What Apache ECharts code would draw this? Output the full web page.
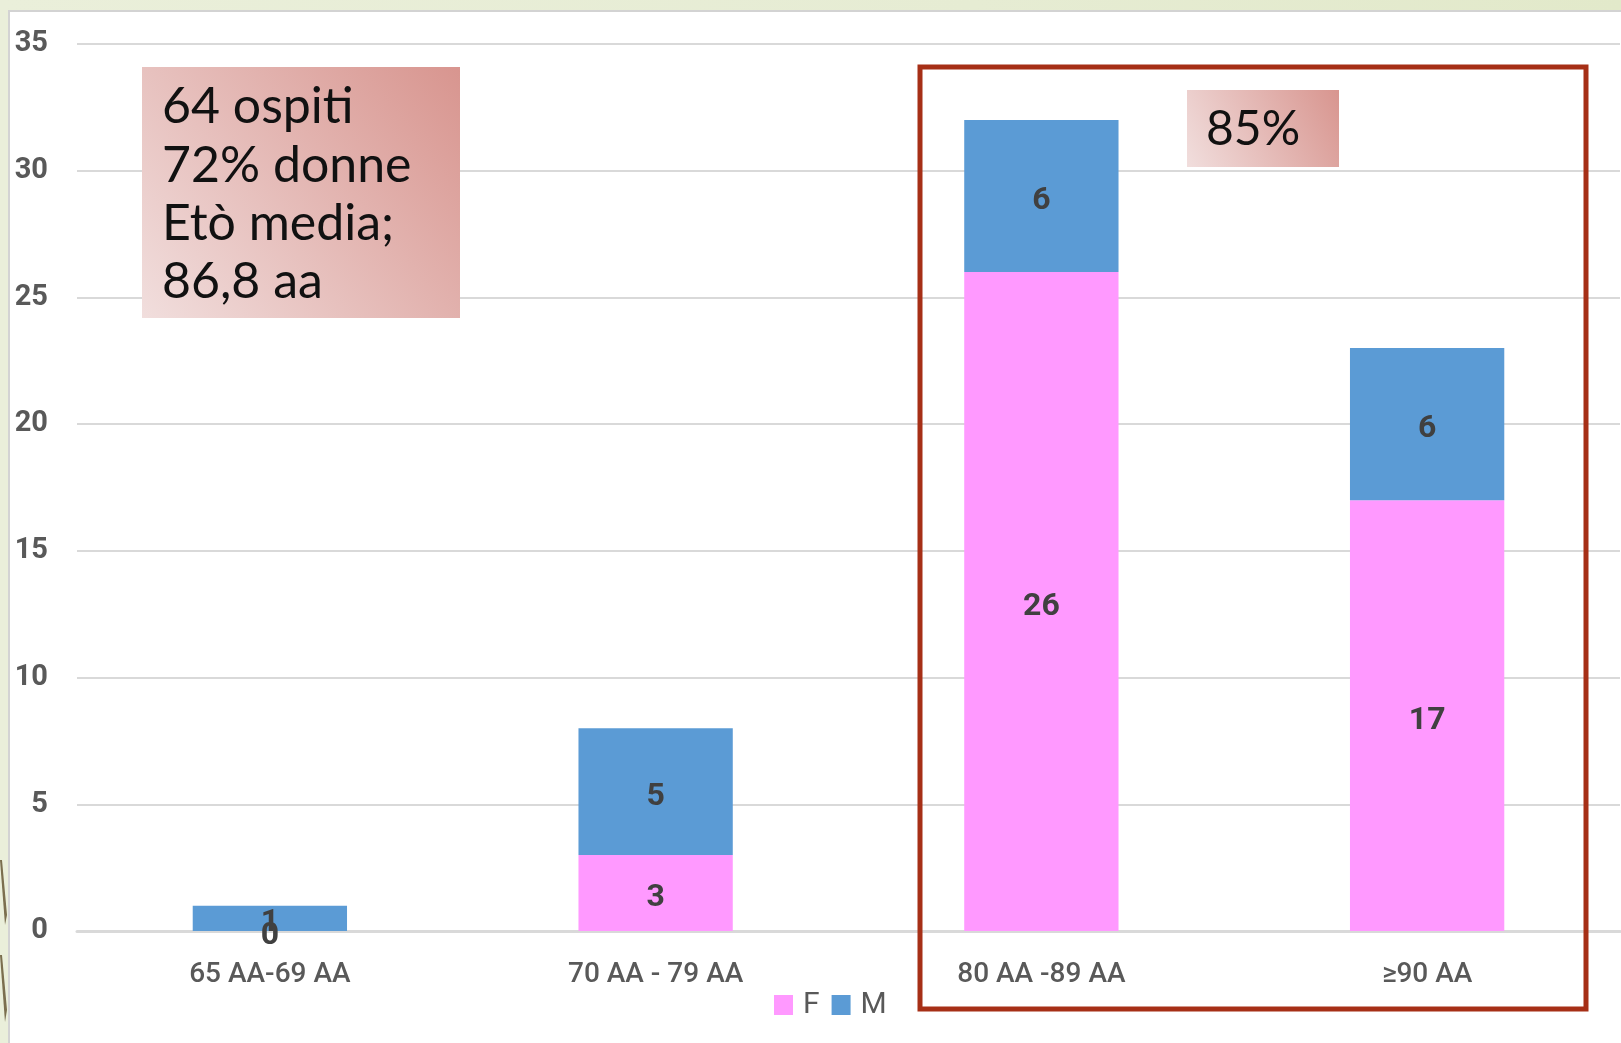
<!DOCTYPE html>
<html>
<head>
<meta charset="utf-8">
<script src="https://cdn.jsdelivr.net/npm/echarts@6/dist/echarts.min.js"></script>
<style>
  html, body { margin: 0; padding: 0; width: 1621px; height: 1043px; overflow: hidden;
    background: linear-gradient(90deg, #eaefda 0%, #e6ecd3 60%, #e2e9ca 100%); }
  #panel { position: absolute; left: 8px; top: 10px; width: 1613px; height: 1033px;
    background: #ffffff; border-left: 2px solid #d3d3d3; border-top: 2px solid #d3d3d3; box-sizing: border-box; }
  #deco { position: absolute; left: 0; top: 0; }
  #chart { position: absolute; left: 0; top: 0; width: 1621px; height: 1043px; }
</style>
</head>
<body>
<div id="panel"></div>
<svg id="deco" width="10" height="1043">
  <polygon points="0,860 2,860 7,915 5,925" fill="#7b6f4f"/>
  <polygon points="0,955 2,955 7,1010 5,1022" fill="#7b6f4f"/>
</svg>
<div id="chart"></div>
<script>
const categories = ['65 AA-69 AA', '70 AA - 79 AA', '80 AA -89 AA', '\u226590 AA'];
const valuesF = [0, 3, 26, 17];
const valuesM = [1, 5, 6, 6];
const yTicks = { min: 0, max: 35, interval: 5 };
const infoLines = ['64 ospiti', '72% donne', 'Et\u00f2 media;', '86,8 aa'];
const highlightText = '85%';

const chart = echarts.init(document.getElementById('chart'), null, { renderer: 'canvas' });

const boxGradient = new echarts.graphic.LinearGradient(0, 1, 1, 0, [
  { offset: 0, color: '#f1dedd' },
  { offset: 1, color: '#d8958f' }
]);
const boxGradient2 = new echarts.graphic.LinearGradient(0, 1, 1, 0, [
  { offset: 0, color: '#f1dedd' },
  { offset: 1, color: '#d8958f' }
]);

const labelStyle = {
  show: true,
  position: 'inside',
  offset: [0, 5],
  fontFamily: 'Roboto',
  fontWeight: 'bold',
  fontSize: 32,
  color: '#404040'
};

chart.setOption({
  backgroundColor: 'transparent',
  animation: false,
  grid: { left: 77, right: 1, top: 44, bottom: 112, containLabel: false },
  legend: {
    data: ['F', 'M'],
    left: 774,
    top: 990,
    padding: 0,
    itemWidth: 19,
    itemHeight: 20,
    itemGap: 12,
    icon: 'rect',
    textStyle: { fontFamily: 'Roboto', fontSize: 30, color: '#595959', padding: [4, 0, 0, 5] }
  },
  xAxis: {
    type: 'category',
    data: categories,
    axisLine: { show: true, lineStyle: { color: '#d9d9d9', width: 3 } },
    axisTick: { show: false },
    axisLabel: { margin: 30, fontFamily: 'Roboto', fontSize: 28, fontWeight: 500, color: '#595959' }
  },
  yAxis: {
    type: 'value',
    min: yTicks.min,
    max: yTicks.max,
    interval: yTicks.interval,
    axisLine: { show: false },
    axisTick: { show: false },
    splitLine: { lineStyle: { color: '#d9d9d9', width: 2 } },
    axisLabel: { margin: 29, fontFamily: 'Roboto', fontSize: 29, fontWeight: 'bold', color: '#595959', padding: [8, 0, 0, 0] }
  },
  series: [
    {
      name: 'F', type: 'bar', stack: 'tot', data: valuesF, barWidth: '40%',
      itemStyle: { color: '#ff99ff' }, label: labelStyle
    },
    {
      name: 'M', type: 'bar', stack: 'tot', data: valuesM, barWidth: '40%',
      itemStyle: { color: '#5b9bd5' }, label: labelStyle
    }
  ],
  graphic: [
    {
      type: 'rect', z: 100,
      shape: { x: 142, y: 67, width: 318, height: 251 },
      style: { fill: boxGradient }
    },
    {
      type: 'text', z: 101, x: 162, y: 78,
      style: {
        text: infoLines.join('\n'),
        fontFamily: 'Lato', fontSize: 50, lineHeight: 58.3,
        fill: '#111111', verticalAlign: 'top', align: 'left'
      }
    },
    {
      type: 'rect', z: 100,
      shape: { x: 1187, y: 90, width: 152, height: 77 },
      style: { fill: boxGradient2 }
    },
    {
      type: 'text', z: 101, x: 1206, y: 130,
      style: {
        text: highlightText,
        fontFamily: 'Lato', fontSize: 48,
        fill: '#111111', verticalAlign: 'middle', align: 'left'
      }
    },
    {
      type: 'rect', z: 100,
      shape: { x: 920, y: 67, width: 666, height: 942 },
      style: { fill: 'none', stroke: '#a62f16', lineWidth: 5 }
    }
  ]
});
</script>
</body>
</html>
